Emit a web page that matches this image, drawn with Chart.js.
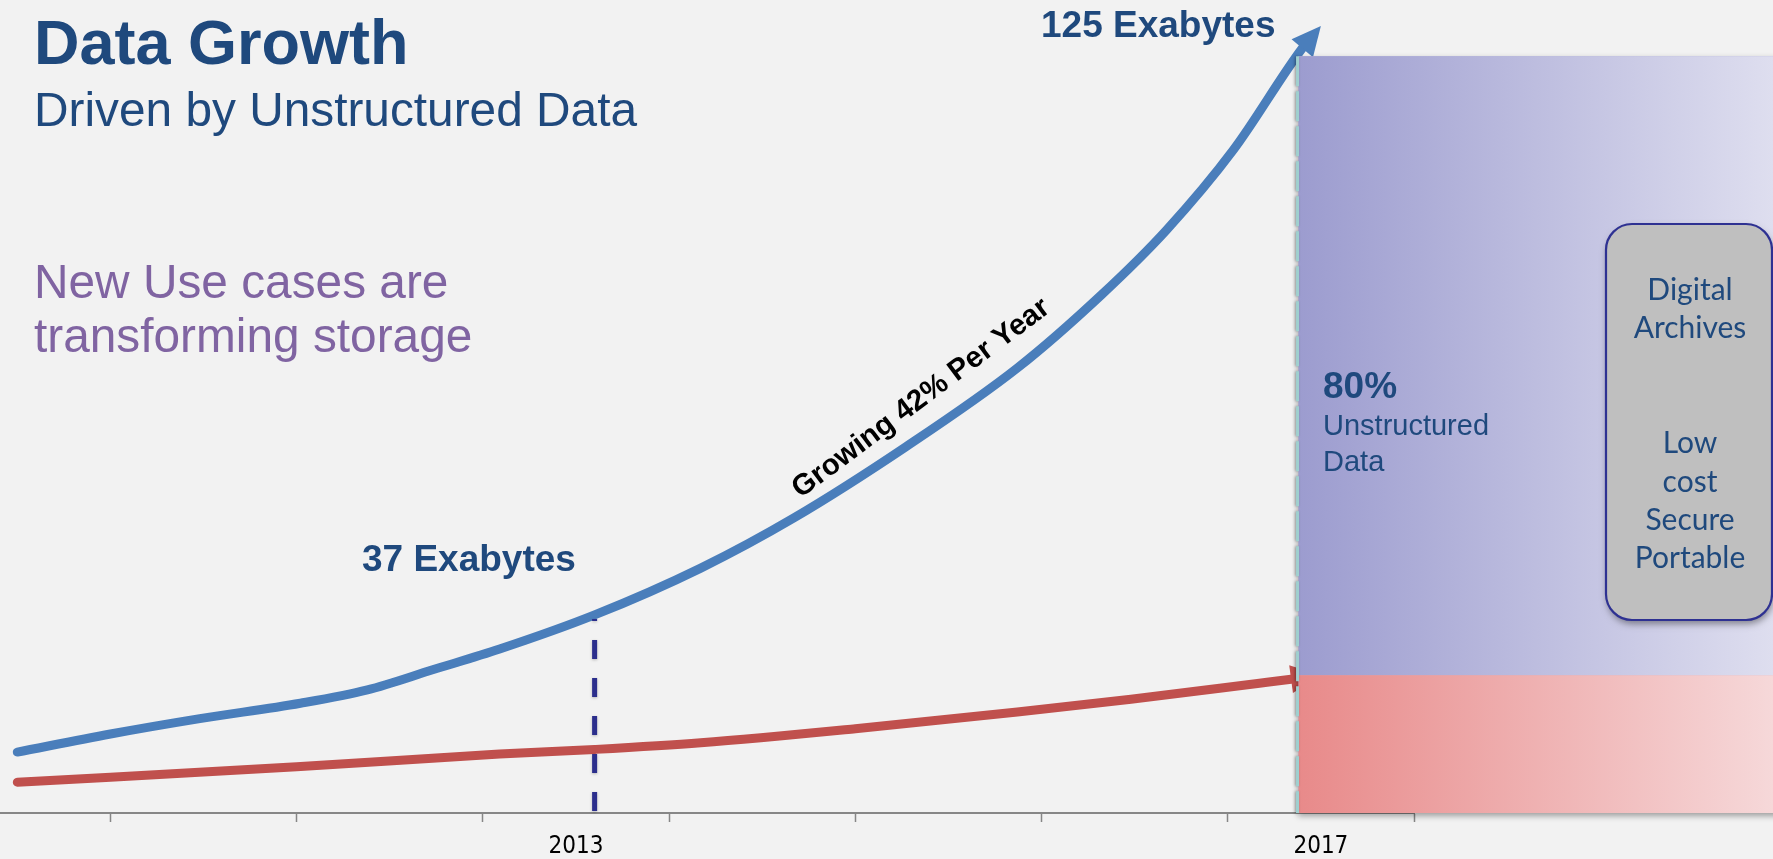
<!DOCTYPE html>
<html>
<head>
<meta charset="utf-8">
<script src="https://cdn.jsdelivr.net/npm/chart.js@4.4.1/dist/chart.umd.min.js"></script>
<style>
html,body{margin:0;padding:0;background:#f2f2f2;overflow:hidden;}
canvas{display:block;}
</style>
</head>
<body>
<canvas id="c" width="1773" height="859"></canvas>
<script>
// ---- data ----
const totalYears = [2010.0, 2010.5, 2010.98, 2011.52, 2011.88, 2012.23, 2012.59, 2013.1, 2013.67, 2014.17, 2014.77, 2015.37, 2015.82, 2016.17, 2016.53, 2016.9, 2017.0];
const totalEB    = [16.5, 19.2, 21.5, 23.8, 25.8, 28.8, 31.9, 37.0, 44.0, 51.5, 62.1, 73.9, 84.8, 94.5, 106.5, 121.7, 125.0];
const structuredYears = [2010.0, 2011.5, 2012.59, 2013.1, 2013.67, 2014.5, 2015.37, 2015.98, 2016.67, 2016.84, 2017.0];
const structuredEB    = [12.0, 14.3, 16.2, 16.9, 17.9, 20.0, 22.5, 24.4, 26.8, 27.4, 28.0];
const tickBoundaries = [2010.5, 2011.5, 2012.5, 2013.5, 2014.5, 2015.5, 2016.5, 2017.5];
const labelYears = [2013, 2017];
const markerYear = 2013.1;      // dashed marker
const markerEB = 37;
const panelFromYear = 2016.88;  // start of the 80% / 20% panel
const panelTopEB = 120.5;
const panelSplitEB = 28.0;

const toPoints = (xs, ys) => xs.map((x, i) => ({x, y: ys[i]}));

const ARIAL = "'Liberation Sans', Arial, sans-serif";
const DARK = '#1F497D';

function txt(ctx, s, x, y, font, color, align) {
  ctx.font = font; ctx.fillStyle = color; ctx.textAlign = align || 'left'; ctx.textBaseline = 'alphabetic';
  ctx.fillText(s, x, y);
}

const decor = {
  id: 'decor',
  beforeDraw(chart) {
    const ctx = chart.ctx;
    ctx.save(); ctx.fillStyle = '#f2f2f2'; ctx.fillRect(0, 0, chart.width, chart.height); ctx.restore();
  },
  afterDatasetsDraw(chart) {
    const ctx = chart.ctx, xs = chart.scales.x, ys = chart.scales.y, ca = chart.chartArea;
    ctx.save();
    // arrowheads
    chart.data.datasets.forEach((ds, di) => {
      const pts = chart.getDatasetMeta(di).data;
      const tip = pts[pts.length - 1], base = pts[pts.length - 2];
      const dx = tip.x - base.x, dy = tip.y - base.y, L = Math.hypot(dx, dy);
      const ux = dx / L, uy = dy / L, hw = 14;
      ctx.beginPath();
      ctx.moveTo(tip.x, tip.y);
      ctx.lineTo(base.x - uy * hw, base.y + ux * hw);
      ctx.lineTo(base.x + uy * hw, base.y - ux * hw);
      ctx.closePath();
      ctx.fillStyle = ds.borderColor; ctx.fill();
    });
    // dashed 2013 marker
    const mx = xs.getPixelForValue(markerYear);
    ctx.save();
    ctx.shadowColor = 'rgba(0,0,0,0.25)'; ctx.shadowBlur = 3; ctx.shadowOffsetY = 1;
    ctx.strokeStyle = '#2B2E8C'; ctx.lineWidth = 5; ctx.setLineDash([19, 19]);
    ctx.beginPath(); ctx.moveTo(mx, ca.bottom - 2); ctx.lineTo(mx, ys.getPixelForValue(markerEB) + 4); ctx.stroke();
    ctx.restore();

    // panel
    const px0 = xs.getPixelForValue(panelFromYear), pTop = ys.getPixelForValue(panelTopEB),
          pSplit = ys.getPixelForValue(panelSplitEB), pBot = ca.bottom, pRight = chart.width;
    ctx.save();
    ctx.shadowColor = 'rgba(0,0,0,0.35)'; ctx.shadowBlur = 6; ctx.shadowOffsetY = 3; ctx.shadowOffsetX = -1;
    ctx.fillStyle = '#b0b0d8'; ctx.fillRect(px0, pTop, pRight - px0 + 10, pBot - pTop);
    ctx.restore();
    let g = ctx.createLinearGradient(px0, 0, pRight, 0);
    g.addColorStop(0, 'rgb(156,156,207)'); g.addColorStop(1, 'rgb(222,222,239)');
    ctx.fillStyle = g; ctx.fillRect(px0, pTop, pRight - px0, pSplit - pTop);
    g = ctx.createLinearGradient(px0, 0, pRight, 0);
    g.addColorStop(0, 'rgb(232,138,138)'); g.addColorStop(1, 'rgb(246,216,217)');
    ctx.fillStyle = g; ctx.fillRect(px0, pSplit, pRight - px0, pBot - pSplit);
    // dashed left edge
    ctx.save();
    ctx.shadowColor = 'rgba(0,0,0,0.35)'; ctx.shadowBlur = 3; ctx.shadowOffsetX = -1;
    ctx.strokeStyle = '#9fcfcf'; ctx.lineWidth = 3; ctx.setLineDash([30, 5]);
    ctx.beginPath(); ctx.moveTo(px0 - 1, pTop); ctx.lineTo(px0 - 1, pBot); ctx.stroke();
    ctx.restore();

    // gray box
    ctx.save();
    ctx.shadowColor = 'rgba(0,0,0,0.4)'; ctx.shadowBlur = 7; ctx.shadowOffsetX = 1; ctx.shadowOffsetY = 4;
    ctx.beginPath(); ctx.roundRect(1606, 224, 166, 396, 26);
    ctx.fillStyle = '#BFBFBF'; ctx.fill();
    ctx.restore();
    ctx.beginPath(); ctx.roundRect(1606, 224, 166, 396, 26);
    ctx.strokeStyle = '#2E3192'; ctx.lineWidth = 2.2; ctx.stroke();
    const GILL = "'Lato', 'Open Sans', sans-serif";
    [['Digital', 300], ['Archives', 338], ['Low', 453], ['cost', 492], ['Secure', 530], ['Portable', 568]]
      .forEach(([s, y]) => txt(ctx, s, 1690, y, '30px ' + GILL, DARK, 'center'));

    // panel text
    txt(ctx, '80%', 1323, 398, 'bold 37px ' + ARIAL, DARK);
    txt(ctx, 'Unstructured', 1323, 435, '29px ' + ARIAL, DARK);
    txt(ctx, 'Data', 1323, 471, '29px ' + ARIAL, DARK);

    // titles
    txt(ctx, 'Data Growth', 34, 64, 'bold 63px ' + ARIAL, DARK);
    txt(ctx, 'Driven by Unstructured Data', 34, 126, '47.8px ' + ARIAL, DARK);
    txt(ctx, 'New Use cases are', 34, 298, '47.8px ' + ARIAL, '#8064A2');
    txt(ctx, 'transforming storage', 34, 352, '47.8px ' + ARIAL, '#8064A2');

    // annotations
    txt(ctx, '37 Exabytes', 362, 571, 'bold 37px ' + ARIAL, DARK);
    txt(ctx, '125 Exabytes', 1041, 37, 'bold 37px ' + ARIAL, DARK);
    ctx.save();
    ctx.translate(926, 405); ctx.rotate(-36.8 * Math.PI / 180);
    txt(ctx, 'Growing 42% Per Year', 0, 0, 'bold 29.5px ' + ARIAL, '#000', 'center');
    ctx.restore();

    ctx.restore();
  }
};

const lastSegTransparent = (n) => ({
  borderColor: c => (c.p1DataIndex === n - 1 ? 'rgba(0,0,0,0)' : undefined)
});

new Chart(document.getElementById('c'), {
  type: 'line',
  data: {
    datasets: [
      { label: 'Total data', data: toPoints(totalYears, totalEB), borderColor: '#4A7EBB', borderWidth: 9,
        cubicInterpolationMode: 'monotone', pointRadius: 0, borderCapStyle: 'round', borderJoinStyle: 'round', fill: false,
        segment: lastSegTransparent(totalYears.length) },
      { label: 'Structured data', data: toPoints(structuredYears, structuredEB), borderColor: '#C0504D', borderWidth: 9,
        cubicInterpolationMode: 'monotone', pointRadius: 0, borderCapStyle: 'round', borderJoinStyle: 'round', fill: false,
        segment: lastSegTransparent(structuredYears.length) }
    ]
  },
  options: {
    responsive: false,
    animation: false,
    devicePixelRatio: 1,
    layout: { padding: { left: 0, right: 359, top: 0, bottom: 0 } },
    plugins: { legend: { display: false }, tooltip: { enabled: false }, title: { display: false } },
    scales: {
      x: {
        type: 'linear', min: 2009.907, max: 2017.5,
        afterBuildTicks: s => { s.ticks = tickBoundaries.concat(labelYears).sort((a, b) => a - b).map(v => ({ value: v })); },
        afterFit: s => { s.height = 46; },
        ticks: {
          autoSkip: false, maxRotation: 0, padding: 10, color: '#000',
          font: { family: "'Liberation Sans Narrow', 'DejaVu Sans Condensed', sans-serif", size: 24 },
          callback: v => (labelYears.includes(v) ? String(v) : '')
        },
        grid: {
          drawOnChartArea: false, drawTicks: true, tickLength: 9, tickWidth: 1.5,
          tickColor: c => (c.tick && labelYears.includes(c.tick.value) ? 'rgba(0,0,0,0)' : '#878787')
        },
        border: { display: true, color: '#878787', width: 2 }
      },
      y: { display: false, min: 7.4, max: 128.9 }
    }
  },
  plugins: [decor]
});
</script>
</body>
</html>
